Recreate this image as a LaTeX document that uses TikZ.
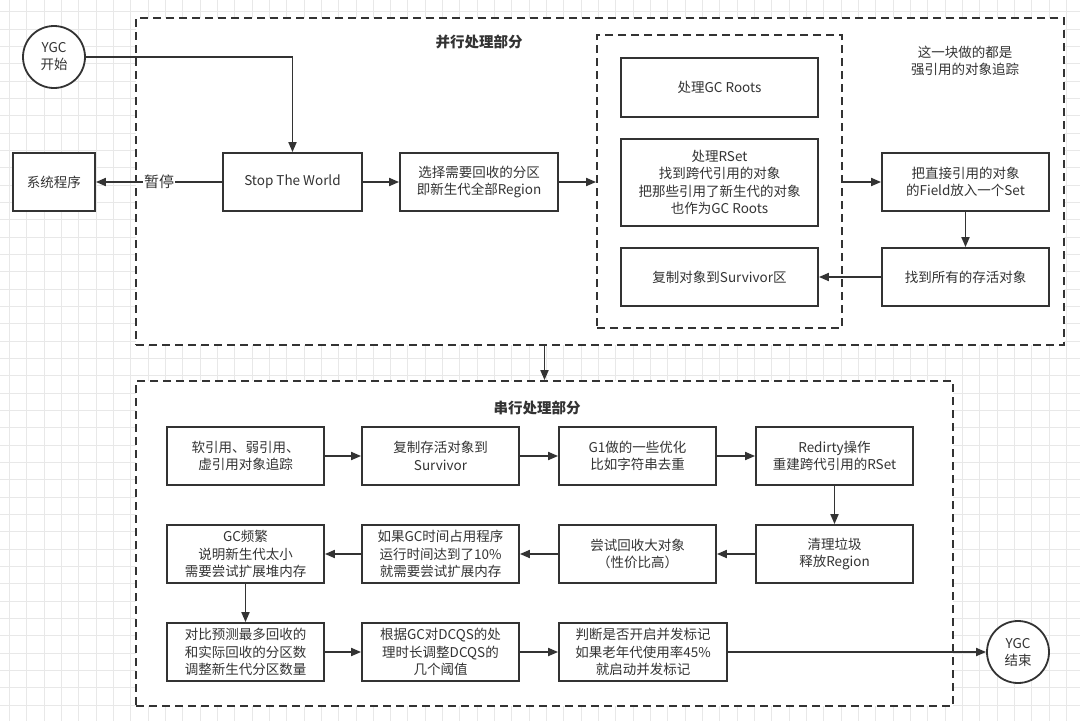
\documentclass[tikz,border=0pt]{standalone}
\usepackage{fontspec}
\setmainfont{Noto Sans CJK SC}
\usetikzlibrary{arrows.meta}

\definecolor{ink}{HTML}{333333}
\definecolor{gridline}{HTML}{E8E8E8}

\tikzset{
	box/.style={draw=ink, line width=1.8pt, fill=white, align=center, text=ink,
		minimum height=58pt, inner sep=2pt, font=\fontsize{13.5pt}{17.3pt}\selectfont},
	group/.style={draw=ink, line width=1.8pt, fill=white, dash pattern=on 8pt off 5pt},
	terminal/.style={draw=ink, line width=1.8pt, fill=white, circle, minimum size=62pt,
		align=center, text=ink, inner sep=0pt, font=\fontsize{13.5pt}{17pt}\selectfont},
	title/.style={text=ink, font=\fontsize{14.5pt}{17pt}\selectfont\bfseries},
	note/.style={text=ink, align=center, font=\fontsize{13.5pt}{17.3pt}\selectfont},
	flow/.style={draw=ink, line width=1.8pt, arrows={-{Triangle[length=10pt,width=8pt]}}}
}

\begin{document}
\begin{tikzpicture}[x=1pt, y=-1pt]
	\useasboundingbox (0,0) rectangle (1080,721);
	% background grid
	\begin{scope}
		\clip (0,0) rectangle (1080,721);
		\foreach \i in {0,...,62} \draw [gridline, line width=0.8pt] ({9.3+17.33*\i},0) -- ++(0,721);
		\foreach \j in {0,...,41} \draw [gridline, line width=0.8pt] (0,{11.8+17.33*\j}) -- ++(1080,0);
	\end{scope}

	% parallel part
	\node [group, minimum width=928pt, minimum height=327pt] (par) at (600,181.5) {};
	\node [title] (partitle) at (479,42) {并行处理部分};
	\node [group, minimum width=245pt, minimum height=293pt] (strong) at (719.5,181.5) {};
	\node [note] (strongnote) at (965,61) {这一块做的都是\\强引用的对象追踪};

	\node [terminal] (start) at (54,57) {YGC\\开始};
	\node [box, minimum width=82pt] (sys) at (54,182) {系统程序};
	\node [box, minimum width=139pt] (stw) at (292.5,182) {Stop The World};
	\node [box, minimum width=158pt] (pick) at (479,182) {选择需要回收的分区\\即新生代全部Region};
	\node [box, minimum width=197pt, minimum height=59pt] (roots) at (719.5,87.5) {处理GC Roots};
	\node [box, minimum width=197pt, minimum height=87pt] (rset) at (719.5,182.5) {处理RSet\\找到跨代引用的对象\\把那些引用了新生代的对象\\也作为GC Roots};
	\node [box, minimum width=197pt] (copysurv) at (719.5,277) {复制对象到Survivor区};
	\node [box, minimum width=167pt] (field) at (965.5,182) {把直接引用的对象\\的Field放入一个Set};
	\node [box, minimum width=167pt] (alive) at (965.5,277) {找到所有的存活对象};

	% serial part
	\node [group, minimum width=817pt, minimum height=325pt] (ser) at (544.5,543.5) {};
	\node [title] (sertitle) at (537,408) {串行处理部分};

	\node [box, minimum width=157pt] (weak) at (245.5,456) {软引用、弱引用、\\虚引用对象追踪};
	\node [box, minimum width=157pt] (tosurv) at (440.5,456) {复制存活对象到\\Survivor};
	\node [box, minimum width=157pt] (g1opt) at (637.5,456) {G1做的一些优化\\比如字符串去重};
	\node [box, minimum width=157pt] (redirty) at (834.5,456) {Redirty操作\\重建跨代引用的RSet};

	\node [box, minimum width=157pt] (expand) at (245.5,554) {GC频繁\\说明新生代太小\\需要尝试扩展堆内存};
	\node [box, minimum width=157pt] (gctime) at (440.5,554) {如果GC时间占用程序\\运行时间达到了10\%\\就需要尝试扩展内存};
	\node [box, minimum width=157pt] (humong) at (637.5,554) {尝试回收大对象\\（性价比高）};
	\node [box, minimum width=157pt] (clean) at (834.5,554) {清理垃圾\\释放Region};

	\node [box, minimum width=157pt] (predict) at (245.5,652) {对比预测最多回收的\\和实际回收的分区数\\调整新生代分区数量};
	\node [box, minimum width=157pt] (dcqs) at (440.5,652) {根据GC对DCQS的处\\理时长调整DCQS的\\几个阈值};
	\node [box, minimum width=168pt] (mark) at (643,652) {判断是否开启并发标记\\如果老年代使用率45\%\\就启动并发标记};
	\node [terminal] (finish) at (1018,652) {YGC\\结束};

	% connectors
	\draw [flow] (start.east) -| (stw.north);
	\draw [flow] (stw.west) -- node [fill=white, text=ink, inner sep=1pt, font=\fontsize{15pt}{17pt}\selectfont] {暂停} (sys.east);
	\draw [flow] (stw) -- (pick);
	\draw [flow] (pick.east) -- (strong.west |- pick.east);
	\draw [flow] (strong.east |- field.west) -- (field.west);
	\draw [flow] (field) -- (alive);
	\draw [flow] (alive) -- (copysurv);
	\draw [flow] (par.south -| ser.north) -- (ser.north);

	\draw [flow] (weak) -- (tosurv);
	\draw [flow] (tosurv) -- (g1opt);
	\draw [flow] (g1opt) -- (redirty);
	\draw [flow] (redirty) -- (clean);
	\draw [flow] (clean) -- (humong);
	\draw [flow] (humong) -- (gctime);
	\draw [flow] (gctime) -- (expand);
	\draw [flow] (expand) -- (predict);
	\draw [flow] (predict) -- (dcqs);
	\draw [flow] (dcqs) -- (mark);
	\draw [flow] (mark) -- (finish);
\end{tikzpicture}
\end{document}
